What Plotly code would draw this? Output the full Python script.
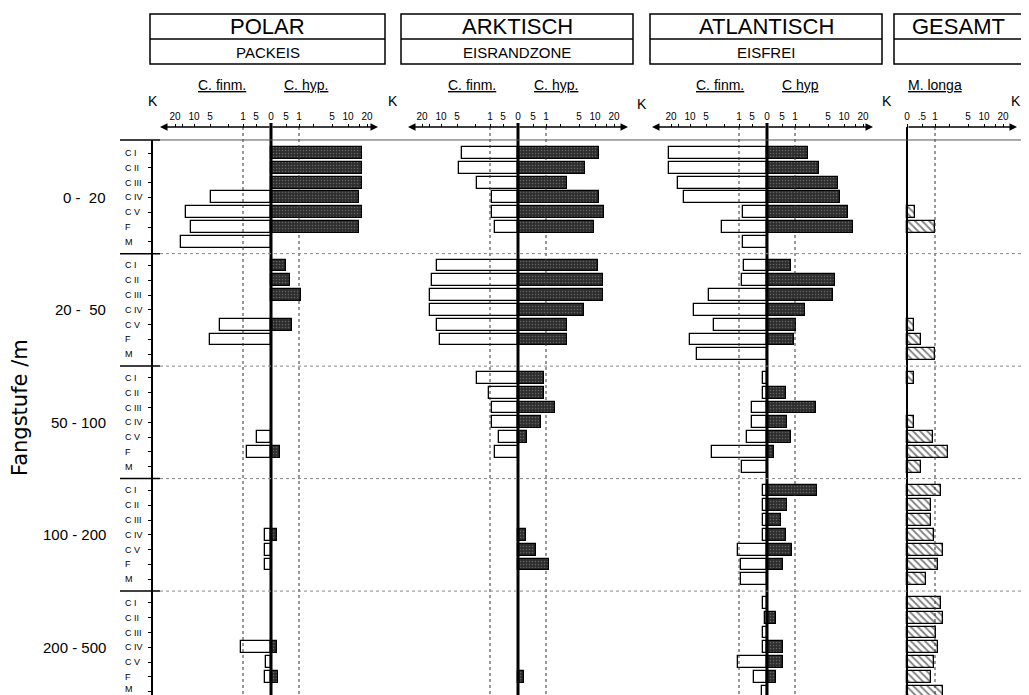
import numpy as np
import plotly.graph_objects as go

W, H = 1029, 695
OFF = 8  # default page margin of the html body
FW, FH = W - OFF, H - OFF

# ---------------- data ----------------
stages = ["C I", "C II", "C III", "C IV", "C V", "F", "M"]
depths = ["0 -  20", "20 -  50", "50 - 100", "100 - 200", "200 - 500"]

# abundance K per depth group (rows: C I ... M); 0 = no catch
polar_finm = [0, 0, 0, 4.8, 13.4, 11.2, 16.1,
              0, 0, 0, 0, 3.1, 5.0, 0,
              0, 0, 0, 0, 0.47, 0.85, 0,
              0, 0, 0, 0.2, 0.2, 0.2, 0,
              0, 0, 0, 1.1, 0.17, 0.2, 0]
polar_hyp = [16.7, 16.7, 16.7, 14.9, 16.7, 14.9, 0,
             0.5, 0.65, 1.1, 0, 0.73, 0, 0,
             0, 0, 0, 0, 0, 0.3, 0,
             0, 0, 0, 0.2, 0, 0, 0,
             0, 0, 0, 0.2, 0, 0.23, 0]
arkt_finm = [3.9, 4.5, 1.9, 0.92, 0.92, 0.81, 0,
             11.6, 13.9, 14.9, 14.9, 11.6, 10.4, 0,
             1.9, 1.05, 0.92, 0.92, 0.65, 0.81, 0,
             0, 0, 0, 0, 0, 0, 0,
             0, 0, 0, 0, 0, 0, 0]
arkt_hyp = [11.6, 6.5, 2.8, 11.6, 13.9, 9.6, 0,
            11.2, 13.4, 13.4, 6.2, 2.8, 2.8, 0,
            0.92, 0.92, 1.55, 0.81, 0.3, 0, 0,
            0, 0, 0, 0.27, 0.62, 1.16, 0,
            0, 0, 0, 0, 0, 0.2, 0]
atl_finm = [21.5, 21.5, 15.5, 12.4, 0.85, 2.3, 0.85,
            0.81, 0.88, 4.3, 8.4, 3.4, 10.0, 7.4,
            0.13, 0.13, 0.5, 0.5, 0.69, 3.7, 0.88,
            0.13, 0.13, 0.13, 0.13, 1.05, 0.92, 0.92,
            0.13, 0.07, 0.13, 0.13, 1.05, 0.43, 0.17]
atl_hyp = [1.9, 3.2, 7.7, 8.4, 11.6, 13.9, 0,
           0.85, 6.8, 6.2, 1.63, 1.05, 0.96, 0,
           0, 0.65, 2.8, 0.69, 0.85, 0.23, 0,
           2.9, 0.69, 0.47, 0.65, 0.88, 0.54, 0,
           0, 0.3, 0, 0.54, 0.54, 0.3, 0]
ges_longa = [0, 0, 0, 0, 0.27, 1.0, 0,
             0, 0, 0, 0, 0.23, 0.47, 1.0,
             0.23, 0, 0, 0.23, 0.92, 1.88, 0.47,
             1.34, 0.85, 0.85, 0.96, 1.48, 1.16, 0.65,
             1.34, 1.48, 1.05, 1.16, 0.96, 0.85, 1.48]

sym_ticks = [20, 15, 10, 5, 2, 1, 0.5, 0]
sym_text = ["20", "", "10", "5", "", "1", "5", "0"]
ges_ticks = [0, 0.5, 1, 2, 5, 10, 15, 20]
ges_text = ["0", ".5", "1", "", "5", "10", "", "20"]

# ---------------- custom K scale ----------------
K_LIN = [0, 0.5, 1]
P_LIN = [0, 15, 28]
K_LOG = [1, 5, 10, 20, 40]
P_LOG = [28, 61, 77, 96, 115]


def kscale(k):
    k = float(k)
    if k <= 1:
        return float(np.interp(k, K_LIN, P_LIN))
    return float(np.interp(np.log10(k), np.log10(K_LOG), P_LOG))


def px(x):
    return (x - OFF) / FW


def py(y):
    return 1 - (y - OFF) / FH


FONT = "Liberation Sans"


def txt(x, y, text, size, xanchor="center", xref="paper", yref="paper", **kw):
    d = dict(x=x, y=y, xref=xref, yref=yref, text=text, showarrow=False,
             xanchor=xanchor, yanchor="middle",
             font=dict(size=size, color="black", family=kw.pop("family", FONT)))
    d.update(kw)
    return d


ROW0, ROWH, GSTEP = 153, 14.8, 7.6
yvals = [g * GSTEP + r for g in range(len(depths)) for r in range(len(stages))]

fig = go.Figure()

panels = [
    dict(ax="x", dom=(152, 382), zero=271, finm=polar_finm, hyp=polar_hyp,
         box=(150, 385), title="POLAR", sub="PACKEIS", l="C. finm.", r="C. hyp.",
         lx=222, rx=306, arr=(160, 378)),
    dict(ax="x2", dom=(405, 632), zero=518, finm=arkt_finm, hyp=arkt_hyp,
         box=(401, 633), title="ARKTISCH", sub="EISRANDZONE", l="C. finm.", r="C. hyp.",
         lx=472, rx=556, arr=(408, 628)),
    dict(ax="x3", dom=(652, 878), zero=767, finm=atl_finm, hyp=atl_hyp,
         box=(650, 882), title="ATLANTISCH", sub="EISFREI", l="C. finm.", r="C hyp",
         lx=720, rx=800, arr=(652, 873)),
]
ges = dict(ax="x4", dom=(900, 1022), zero=907, box=(894, 1023), title="GESAMT",
           sub="", arr=(907, 1017))

BAR_W = 0.8
hyp_pattern = dict(shape=".", fgcolor="#9a9a9a", bgcolor="#2e2e2e", size=3, solidity=0.2)

shapes = []
annotations = []
layout_axes = {}

for p in panels:
    fx = [-kscale(v) if v > 0 else None for v in p["finm"]]
    hx = [kscale(v) if v > 0 else None for v in p["hyp"]]
    fig.add_trace(go.Bar(x=fx, y=yvals, base=0, orientation="h", width=BAR_W,
                         xaxis=p["ax"], yaxis="y",
                         marker=dict(color="white", line=dict(color="black", width=1.3)),
                         hoverinfo="skip"))
    fig.add_trace(go.Bar(x=hx, y=yvals, base=0, orientation="h", width=BAR_W,
                         xaxis=p["ax"], yaxis="y",
                         marker=dict(color="#2e2e2e", pattern=hyp_pattern,
                                     line=dict(color="black", width=1.3)),
                         hoverinfo="skip"))

fig.add_trace(go.Bar(x=[kscale(v) if v > 0 else None for v in ges_longa], y=yvals, base=0,
                     orientation="h", width=BAR_W, xaxis="x4", yaxis="y",
                     marker=dict(color="white",
                                 pattern=dict(shape="\\", fgcolor="black", bgcolor="white",
                                              size=5, solidity=0.35),
                                 line=dict(color="black", width=1.3)),
                     hoverinfo="skip"))

AXIS_Y = 127


def axis_dict(p, tv, tt):
    d0, d1 = p["dom"]
    z = p["zero"]
    return dict(domain=[px(d0), px(d1)], range=[d0 - z, d1 - z], anchor="free",
                position=py(AXIS_Y), side="top", tickmode="array", tickvals=tv,
                ticktext=tt, ticks="outside", ticklen=3, tickwidth=1, tickcolor="black",
                tickfont=dict(size=10, color="black", family=FONT),
                showline=False, showgrid=False, zeroline=False, fixedrange=True)


sym_vals = [-kscale(k) for k in sym_ticks] + [kscale(k) for k in sym_ticks[::-1][1:]]
sym_txt = sym_text + sym_text[::-1][1:]

for i, p in enumerate(panels):
    name = "xaxis" if i == 0 else "xaxis%d" % (i + 1)
    layout_axes[name] = axis_dict(p, sym_vals, sym_txt)
layout_axes["xaxis4"] = axis_dict(ges, [kscale(k) for k in ges_ticks], ges_text)

for p in panels + [ges]:
    z = p["zero"]
    top = 123 if p is not ges else 127
    shapes.append(dict(type="line", xref=p["ax"], yref="paper", x0=0, x1=0,
                       y0=py(top), y1=0, line=dict(color="black", width=3 if p is not ges else 2)))
    sides = [1] if p is ges else [-1, 1]
    for s in sides:
        shapes.append(dict(type="line", xref=p["ax"], yref="paper", x0=s * kscale(1),
                           x1=s * kscale(1), y0=py(AXIS_Y), y1=0,
                           line=dict(color="#333", width=1, dash="dot")))
    a0, a1 = p["arr"]
    ends = [a1 - z] if p is ges else [a0 - z, a1 - z]
    for e in ends:
        annotations.append(dict(x=e, y=py(AXIS_Y), xref=p["ax"], yref="paper",
                                ax=0, ay=0, axref=p["ax"], ayref="pixel",
                                text="", showarrow=True, arrowhead=2, arrowsize=1,
                                arrowwidth=1.5, arrowcolor="black", standoff=0, startstandoff=0))

shapes.append(dict(type="line", xref="paper", yref="paper", x0=px(152), x1=px(152),
                   y0=py(140), y1=0, line=dict(color="black", width=2)))

top_y = -0.88
seps = [top_y] + [g * GSTEP + 6.8 for g in range(len(depths) - 1)]
for j, s in enumerate(seps):
    shapes.append(dict(type="line", xref="paper", yref="y", x0=px(120), x1=px(160),
                       y0=s, y1=s, line=dict(color="black", width=1.5)))
    shapes.append(dict(type="line", xref="paper", yref="y", x0=px(160), x1=px(1025),
                       y0=s, y1=s,
                       line=dict(color="#555" if j == 0 else "#888", width=1,
                                 dash="solid" if j == 0 else "dot")))

for p in panels + [ges]:
    b0, b1 = p["box"]
    shapes.append(dict(type="rect", xref="paper", yref="paper", x0=px(b0), x1=px(b1),
                       y0=py(64), y1=py(14), line=dict(color="black", width=1.5)))
    shapes.append(dict(type="line", xref="paper", yref="paper", x0=px(b0), x1=px(b1),
                       y0=py(39), y1=py(39), line=dict(color="black", width=1.3)))
    cx = (b0 + b1) / 2
    annotations.append(txt(px(cx), py(27), p["title"], 22))
    if p["sub"]:
        annotations.append(txt(px(cx), py(52), p["sub"], 15))

for p in panels:
    for lab, xx in ((p["l"], p["lx"]), (p["r"], p["rx"])):
        annotations.append(txt(px(xx), py(85), "<u>%s</u>" % lab, 14))
annotations.append(txt(px(935), py(85), "<u>M. longa</u>", 14))

for kx, ky in ((153, 101), (393, 101), (642, 104), (887, 101), (1016, 101)):
    annotations.append(txt(px(kx), py(ky), "K", 14))

n_last = len(depths) - 1
for g in range(len(depths)):
    for r, st in enumerate(stages):
        shift = 3 if (g == n_last and r == len(stages) - 1) else 0
        annotations.append(txt(px(123), g * GSTEP + r, st, 9, xanchor="left", yref="y",
                               yshift=shift))
    annotations.append(txt(px(108), g * GSTEP + 3, depths[g], 15, xanchor="right", yref="y"))

annotations.append(txt(px(20), py(408), "Fangstufe /m", 21, textangle=-90,
                       family="DejaVu Sans"))

y_lo = (OFF - ROW0) / ROWH
y_hi = (H - ROW0) / ROWH
fig.update_layout(
    width=FW, height=FH, margin=dict(l=0, r=0, t=0, b=0),
    paper_bgcolor="white", plot_bgcolor="white", showlegend=False,
    barmode="overlay", bargap=0,
    yaxis=dict(domain=[0, 1], range=[y_hi, y_lo], anchor="x", tickmode="array",
               tickvals=yvals, ticks="outside", ticklen=3, tickcolor="black",
               showticklabels=False, showline=False, showgrid=False, zeroline=False,
               fixedrange=True),
    shapes=shapes, annotations=annotations,
    **layout_axes,
)

fig.write_html("out.html")
